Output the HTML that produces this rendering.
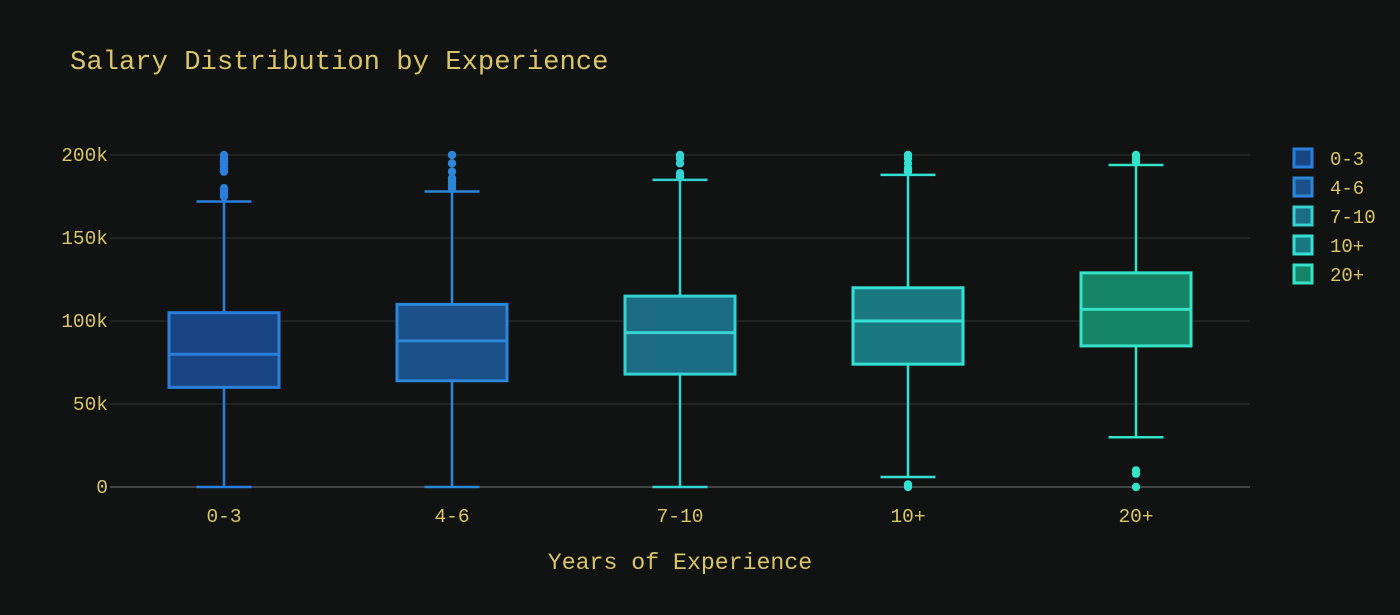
<!DOCTYPE html>
<html><head><meta charset="utf-8"><style>
html,body{margin:0;padding:0;background:#111313;}
svg{display:block;font-family:"Liberation Mono",monospace;}
</style></head><body>
<svg id="chart" width="1400" height="615">
<rect width="1400" height="615" fill="#111313"/>
<text x="70" y="69" fill="#d9c46a" font-size="27.2">Salary Distribution by Experience</text>
<text x="680" y="569" fill="#d9c46a" font-size="23.2" text-anchor="middle">Years of Experience</text>
<g id="grid"></g><g id="boxes"></g><g id="legend"></g>
</svg>
<script>
const categories = ["0-3","4-6","7-10","10+","20+"];
const q1Values = [60,64,68,74,85];
const medianValues = [80,88,93,100,107];
const q3Values = [105,110,115,120,129];
const lowWhiskers = [0,0,0,6,30];
const highWhiskers = [172,178,185,188,194];
const outlierValues = [[175,177,179,180,190,192,194,196,198,200],[180,182,184,186,190,195,200],[187,189,195,198,200],[190,192,195,198,200,0,1.5],[196,198,200,8,10,0]];
const yTicks = [0,50,100,150,200];
const yTickLabels = ["0","50k","100k","150k","200k"];
const lineColors = ["#2b7fdc","#2c86da","#34d2d2","#34e0d4","#34e2c8"];
const fillColors = ["#184684","#1b5088","#1d6c86","#1a7880","#158466"];
const NS="http://www.w3.org/2000/svg";
const X0=110,X1=1250,Y0=487,Y1=155;
const y=v=>Y0-(v/200)*(Y0-Y1);
const step=(X1-X0)/categories.length;
const xc=i=>X0+step*(i+0.5);
function mk(tag,attrs,parent){const e=document.createElementNS(NS,tag);for(const k in attrs)e.setAttribute(k,attrs[k]);parent.appendChild(e);return e;}
const grid=document.getElementById('grid');
yTicks.forEach((t,i)=>{
 const l=mk('line',{x1:X0,x2:X1,y1:y(t),y2:y(t),stroke:t===0?'#444':'#333','stroke-width':t===0?2:1},grid);
 
 
 const tx=mk('text',{x:X0-2,y:y(t)+6,fill:'#d9c46a','font-size':19.5,'text-anchor':'end'},grid);
 tx.textContent=yTickLabels[i];
 
 
});
const boxes=document.getElementById('boxes');
const bw=110,cw=55;
categories.forEach((c,i)=>{
 const g=mk('g',{},boxes);
 
 
 const cx=xc(i),col=lineColors[i];
 mk('line',{x1:cx,x2:cx,y1:y(highWhiskers[i]),y2:y(q3Values[i]),stroke:col,'stroke-width':2.5},g);
 mk('line',{x1:cx,x2:cx,y1:y(q1Values[i]),y2:y(lowWhiskers[i]),stroke:col,'stroke-width':2.5},g);
 mk('line',{x1:cx-cw/2,x2:cx+cw/2,y1:y(highWhiskers[i]),y2:y(highWhiskers[i]),stroke:col,'stroke-width':2.5},g);
 mk('line',{x1:cx-cw/2,x2:cx+cw/2,y1:y(lowWhiskers[i]),y2:y(lowWhiskers[i]),stroke:col,'stroke-width':2.5},g);
 mk('rect',{x:cx-bw/2,y:y(q3Values[i]),width:bw,height:y(q1Values[i])-y(q3Values[i]),fill:fillColors[i],stroke:col,'stroke-width':3},g);
 mk('line',{x1:cx-bw/2,x2:cx+bw/2,y1:y(medianValues[i]),y2:y(medianValues[i]),stroke:col,'stroke-width':3},g);
 outlierValues[i].forEach(v=>{
  const p=mk('circle',{cx:cx,cy:y(v),r:4.2,fill:col},g);
  
  
 });
 const tx=mk('text',{x:cx,y:522,fill:'#d9c46a','font-size':19.5,'text-anchor':'middle'},boxes);
 tx.textContent=c;
 
 
});
const legend=document.getElementById('legend');
categories.forEach((c,i)=>{
 const g=mk('g',{},legend);
 
 
 const ly=158+i*29;
 mk('rect',{x:1294,y:ly-9,width:18,height:18,fill:fillColors[i],stroke:lineColors[i],'stroke-width':3},g);
 const t=mk('text',{x:1330,y:ly+7,fill:'#d9c46a','font-size':19},g);
 t.textContent=c;
});
</script>
</body></html>
